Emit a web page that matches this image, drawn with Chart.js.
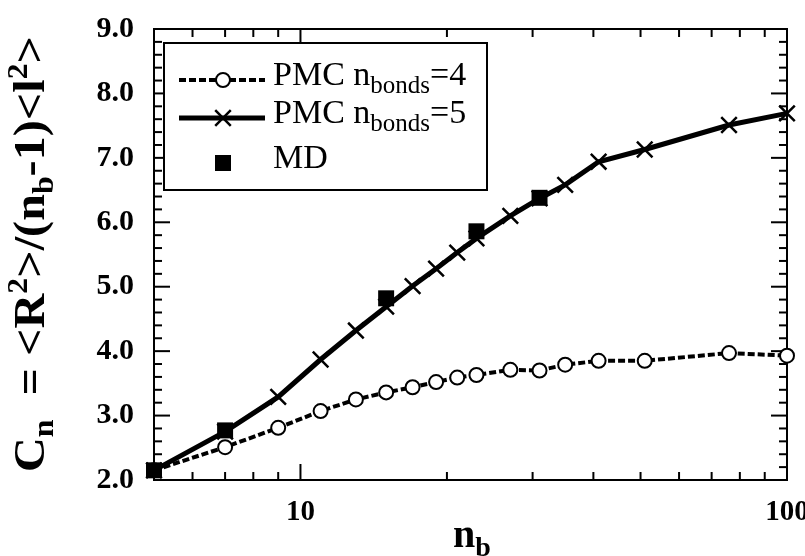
<!DOCTYPE html>
<html>
<head>
<meta charset="utf-8">
<script src="https://cdn.jsdelivr.net/npm/chart.js@4"></script>
<style>
  html, body { margin: 0; padding: 0; background: #fff; }
  #wrap { width: 805px; height: 556px; position: relative; }
</style>
</head>
<body>
<div id="wrap"><canvas id="c" width="805" height="556"></canvas></div>
<script>
// Characteristic ratio C_n versus number of backbone bonds n_b
const chainLengths = [5, 7, 9, 11, 13, 15, 17, 19, 21, 23, 27, 31, 35, 41, 51, 76, 100];
const pmcBonds4 = [2.15, 2.51, 2.81, 3.07, 3.25, 3.36, 3.44, 3.52, 3.59, 3.63, 3.71, 3.70, 3.79, 3.85, 3.85, 3.97, 3.93];
const pmcBonds5 = [2.15, 2.75, 3.29, 3.87, 4.32, 4.69, 5.01, 5.28, 5.53, 5.75, 6.10, 6.37, 6.58, 6.94, 7.13, 7.51, 7.69];
const mdLengths = [5, 7, 15, 23, 31];
const mdValues = [2.15, 2.77, 4.82, 5.86, 6.38];

// Axis ticks
const xLabelTicks = [10, 100];
const xMinorTicks = [6, 7, 8, 9, 20, 30, 40, 50, 60, 70, 80, 90];
const yMajorTicks = [2, 3, 4, 5, 6, 7, 8, 9];
const yMinorTicks = [2.2, 2.4, 2.6, 2.8, 3.2, 3.4, 3.6, 3.8, 4.2, 4.4, 4.6, 4.8,
                     5.2, 5.4, 5.6, 5.8, 6.2, 6.4, 6.6, 6.8, 7.2, 7.4, 7.6, 7.8,
                     8.2, 8.4, 8.6, 8.8];

const toPoints = (xs, ys) => xs.map((x, i) => ({ x: x, y: ys[i] }));

const SERIF = '"Liberation Serif", "Times New Roman", serif';

function richWidth(ctx, segs) {
  let w = 0;
  segs.forEach(s => { ctx.font = s.font; w += ctx.measureText(s.t).width; });
  return w;
}
function drawRich(ctx, segs, x, y) {
  segs.forEach(s => {
    ctx.font = s.font;
    ctx.fillText(s.t, x, y + (s.dy || 0));
    x += ctx.measureText(s.t).width;
  });
}

const decor = {
  id: 'decor',
  beforeDatasetsDraw(chart) {
    const { ctx, chartArea: a, scales: { x, y } } = chart;
    ctx.save();
    ctx.strokeStyle = '#000';
    ctx.lineWidth = 2;
    ctx.strokeRect(a.left, a.top, a.right - a.left, a.bottom - a.top);
    const seg = (x1, y1, x2, y2) => { ctx.beginPath(); ctx.moveTo(x1, y1); ctx.lineTo(x2, y2); ctx.stroke(); };
    const xt = (v, len) => {
      const px = x.getPixelForValue(v);
      seg(px, a.bottom, px, a.bottom - len);
      seg(px, a.top, px, a.top + len);
    };
    const yt = (v, len) => {
      const py = y.getPixelForValue(v);
      seg(a.left, py, a.left + len, py);
      seg(a.right, py, a.right - len, py);
    };
    xLabelTicks.forEach(v => xt(v, 16));
    xMinorTicks.forEach(v => xt(v, 8));
    yMajorTicks.forEach(v => yt(v, 16));
    yMinorTicks.forEach(v => yt(v, 8));
    ctx.restore();
  },
  afterDraw(chart) {
    const ctx = chart.ctx;
    ctx.save();
    ctx.fillStyle = '#000';
    ctx.strokeStyle = '#000';
    ctx.textBaseline = 'alphabetic';
    ctx.textAlign = 'left';

    // Legend box
    const lx = 164, ly = 43, lw = 323, lh = 147;
    ctx.fillStyle = '#fff';
    ctx.fillRect(lx, ly, lw, lh);
    ctx.lineWidth = 2;
    ctx.strokeRect(lx, ly, lw, lh);

    // Row 1: dashed line with open circle
    ctx.lineWidth = 4;
    ctx.setLineDash([7, 3]);
    ctx.beginPath(); ctx.moveTo(179, 80); ctx.lineTo(265, 80); ctx.stroke();
    ctx.setLineDash([]);
    ctx.fillStyle = '#fff';
    ctx.lineWidth = 2;
    Chart.helpers.drawPoint(ctx, { pointStyle: 'circle', radius: 7, borderWidth: 2 }, 223, 80);
    // Row 2: solid line with cross
    ctx.lineWidth = 5;
    ctx.beginPath(); ctx.moveTo(179, 118); ctx.lineTo(265, 118); ctx.stroke();
    ctx.lineWidth = 2.5;
    Chart.helpers.drawPoint(ctx, { pointStyle: 'crossRot', radius: 11, borderWidth: 2.5 }, 223, 118);
    // Row 3: filled square
    ctx.fillStyle = '#000';
    ctx.fillRect(215, 155, 16, 16);

    // Legend text
    ctx.fillStyle = '#000';
    const big = '34px ' + SERIF, small = '25px ' + SERIF;
    drawRich(ctx, [{ t: 'PMC n', font: big }, { t: 'bonds', font: small, dy: 8 }, { t: '=4', font: big }], 273, 85);
    drawRich(ctx, [{ t: 'PMC n', font: big }, { t: 'bonds', font: small, dy: 8 }, { t: '=5', font: big }], 273, 123);
    drawRich(ctx, [{ t: 'MD', font: big }], 273, 168);

    // X axis title
    drawRich(ctx, [{ t: 'n', font: 'bold 40px ' + SERIF }, { t: 'b', font: 'bold 28px ' + SERIF, dy: 9 }], 453, 547);

    // Y axis title (rotated)
    const B = 'bold 44px ' + SERIF, S = 'bold 29px ' + SERIF;
    const ySegs = [
      { t: 'C', font: B }, { t: 'n', font: S, dy: 9 },
      { t: '  = <R', font: B }, { t: '2', font: S, dy: -17 },
      { t: '>/(n', font: B }, { t: 'b', font: S, dy: 9 },
      { t: '-1)<l', font: B }, { t: '2', font: S, dy: -17 },
      { t: '>', font: B }
    ];
    const w = richWidth(ctx, ySegs);
    ctx.translate(44, 254);
    ctx.rotate(-Math.PI / 2);
    ctx.scale(436 / w, 1);
    drawRich(ctx, ySegs, -w / 2, 0);
    ctx.restore();
  }
};

new Chart(document.getElementById('c'), {
  type: 'line',
  data: {
    datasets: [
      {
        label: 'MD',
        data: toPoints(mdLengths, mdValues),
        showLine: false,
        pointStyle: 'rect',
        pointRadius: 11.3,
        pointBorderWidth: 0,
        pointBackgroundColor: '#000',
        pointBorderColor: '#000',
        clip: false,
        order: 0
      },
      {
        label: 'PMC nbonds=5',
        data: toPoints(chainLengths, pmcBonds5),
        borderColor: '#000',
        borderWidth: 5,
        tension: 0,
        pointStyle: 'crossRot',
        pointRadius: 11,
        pointBorderWidth: 2.5,
        pointBorderColor: '#000',
        pointBackgroundColor: '#000',
        clip: false,
        order: 1
      },
      {
        label: 'PMC nbonds=4',
        data: toPoints(chainLengths, pmcBonds4),
        borderColor: '#000',
        borderWidth: 4,
        borderDash: [7, 3],
        tension: 0,
        pointStyle: 'circle',
        pointRadius: 7,
        pointBorderWidth: 2,
        pointBorderColor: '#000',
        pointBackgroundColor: '#fff',
        clip: false,
        order: 2
      }
    ]
  },
  options: {
    responsive: false,
    animation: false,
    events: [],
    layout: { padding: { top: 29, right: 18, left: 0, bottom: 0 } },
    plugins: { legend: { display: false }, tooltip: { enabled: false } },
    scales: {
      x: {
        type: 'logarithmic',
        min: 5,
        max: 100,
        grid: { display: false, drawTicks: false },
        border: { display: false },
        ticks: {
          autoSkip: false,
          maxRotation: 0,
          minRotation: 0,
          padding: 15,
          color: '#000',
          font: { family: SERIF, size: 29, weight: 'bold' },
          callback: v => (xLabelTicks.some(t => Math.abs(v - t) < 1e-6) ? String(Math.round(v)) : '')
        },
        afterFit(s) { s.height = 76; s.paddingLeft = 0; s.paddingRight = 0; }
      },
      y: {
        min: 2,
        max: 9,
        grid: { display: false, drawTicks: false },
        border: { display: false },
        ticks: {
          stepSize: 1,
          padding: 20,
          color: '#000',
          font: { family: SERIF, size: 30, weight: 'bold' },
          callback: v => v.toFixed(1)
        },
        afterFit(s) { s.width = 154; s.paddingTop = 0; s.paddingBottom = 0; }
      }
    }
  },
  plugins: [decor]
});
</script>
</body>
</html>
